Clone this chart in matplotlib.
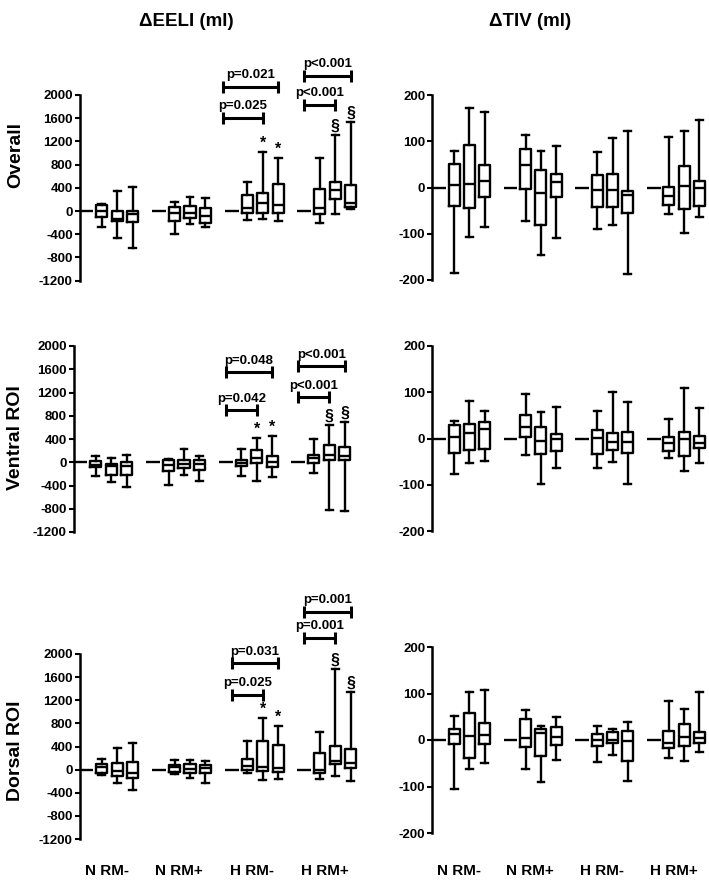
import matplotlib
matplotlib.use("Agg")
import matplotlib.pyplot as plt

plt.rcParams['font.family'] = ['Liberation Sans', 'DejaVu Sans']
plt.rcParams['font.weight'] = 'bold'
plt.rcParams['axes.unicode_minus'] = False

# groups on the x axis and row names
groups = ['N RM-', 'N RM+', 'H RM-', 'H RM+']
rows = ['Overall', 'Ventral ROI', 'Dorsal ROI']

# five-number summaries (whisker low, Q1, median, Q3, whisker high)
# 3 boxes per group, groups in the order of `groups`
eeli_overall = [
    (-270, -97, 0, 103, 120), (-460, -166, -143, 5, 345), (-632, -195, -57, 5, 419),
    (-402, -166, -29, 74, 150), (-230, -126, -29, 90, 247), (-270, -201, -86, 46, 218),
    (-155, -40, 46, 276, 494), (-143, -40, 143, 315, 1022), (-172, -40, 103, 465, 908),
    (-201, -52, 57, 379, 908), (-52, 207, 362, 505, 1310), (29, 64, 132, 448, 1540),
]
eeli_ventral = [
    (-229, -86, -40, 17, 103), (-343, -212, -69, -29, 80), (-430, -218, -69, 6, 126),
    (-395, -143, -40, 34, 50), (-212, -97, -29, 34, 235), (-326, -137, -29, 34, 103),
    (-240, -69, -11, 46, 235), (-315, -11, 80, 217, 412), (-252, -86, 0, 115, 447),
    (-189, -11, 74, 132, 400), (-824, 46, 126, 292, 647), (-841, 46, 103, 258, 687),
]
eeli_dorsal = [
    (-92, -52, 40, 92, 178), (-224, -109, -17, 121, 368), (-351, -150, -52, 132, 455),
    (-81, -40, 40, 81, 167), (-150, -63, 6, 98, 167), (-224, -63, 35, 81, 150),
    (-63, -6, 63, 190, 495), (-178, -17, 40, 495, 886), (-167, -46, 23, 420, 760),
    (-167, -63, -6, 293, 645), (-109, 98, 150, 414, 1744), (-190, 23, 109, 351, 1335),
]
tiv_overall = [
    (-184, -40, 5, 50, 79), (-107, -44, 8, 91, 172), (-86, -20, 14, 48, 164),
    (-73, -4, 48, 84, 113), (-145, -80, -12, 37, 79), (-110, -21, 12, 30, 89),
    (-89, -42, -5, 28, 77), (-80, -42, -6, 30, 106), (-188, -55, -17, -8, 122),
    (-58, -37, -19, 1, 110), (-99, -46, 4, 46, 122), (-63, -40, -1, 14, 146),
]
tiv_ventral = [
    (-76, -32, 4, 29, 38), (-52, -24, 12, 32, 81), (-48, -23, 20, 35, 60),
    (-35, 3, 25, 51, 97), (-99, -34, -5, 25, 58), (-63, -26, -1, 10, 69),
    (-64, -34, 1, 18, 60), (-51, -24, -7, 12, 101), (-99, -32, -7, 13, 79),
    (-43, -27, -9, 3, 42), (-71, -38, 0, 13, 109), (-52, -21, -9, 6, 65),
]
tiv_dorsal = [
    (-106, -9, 13, 24, 52), (-62, -39, 9, 58, 104), (-50, -9, 11, 37, 108),
    (-62, -14, 4, 45, 65), (-91, -35, 16, 23, 31), (-43, -11, 6, 29, 50),
    (-47, -13, 0, 12, 31), (-32, -6, 0, 18, 24), (-88, -45, -3, 19, 38),
    (-38, -17, -7, 19, 83), (-45, -12, 7, 35, 67), (-26, -7, 5, 17, 103),
]

# significance brackets: (group, start slot, end slot, height, label)
brackets_overall = [(2, -0.55, 2, 1610, 'p=0.025'), (2, -0.55, 3, 2140, 'p=0.021'),
                    (3, 0, 2, 1830, 'p<0.001'), (3, 0, 3, 2330, 'p<0.001')]
brackets_ventral = [(2, 0, 2, 893, 'p=0.042'), (2, 0, 3, 1550, 'p=0.048'),
                    (3, 0, 2, 1120, 'p<0.001'), (3, 0, 3, 1650, 'p<0.001')]
brackets_dorsal = [(2, 0, 2, 1290, 'p=0.025'), (2, 0, 3, 1836, 'p=0.031'),
                   (3, 0, 2, 2285, 'p=0.001'), (3, 0, 3, 2728, 'p=0.001')]
# symbols above boxes: (group, slot, symbol)
marks = [(2, 2, '*'), (2, 3, '*'), (3, 2, '§'), (3, 3, '§')]

GAP = 4.7
W, H = 709, 883


def pos(g, k):
    return g * GAP + k


def make_ax(left, top, bottom, width):
    return fig.add_axes([left / W, 1 - bottom / H, width / W, (bottom - top) / H])


def draw_panel(ax, data, ylim, step, brackets=None):
    stats = []
    positions = []
    for i, (lo, q1, med, q3, hi) in enumerate(data):
        stats.append(dict(whislo=lo, q1=q1, med=med, q3=q3, whishi=hi, fliers=[]))
        positions.append(pos(i // 3, i % 3 + 1))
    lw = 1.7
    ax.bxp(stats, positions=positions, widths=0.72, capwidths=0.45, showfliers=False,
           boxprops=dict(color='black', linewidth=lw),
           whiskerprops=dict(color='black', linewidth=lw),
           capprops=dict(color='black', linewidth=lw),
           medianprops=dict(color='black', linewidth=lw))
    # baseline (all zero) shown as a dash
    for g in range(len(groups)):
        ax.plot([pos(g, 0) - 0.45, pos(g, 0) + 0.45], [0, 0], color='black', lw=lw,
                solid_capstyle='butt')
    ax.set_ylim(*ylim)
    ax.set_xlim(-0.45, pos(3, 3) + 0.5)
    ax.set_yticks(range(ylim[0], ylim[1] + 1, step))
    ax.set_xticks([])
    for s in ['top', 'right', 'bottom']:
        ax.spines[s].set_visible(False)
    ax.spines['left'].set_linewidth(1.8)
    ax.tick_params(axis='y', direction='out', length=3.8, width=1.5, pad=1, labelsize=9.5)
    for lab in ax.get_yticklabels():
        lab.set_fontweight('bold')
    ax.patch.set_alpha(0)
    if brackets:
        for g, k0, k1, y, label in brackets:
            x0, x1 = pos(g, k0), pos(g, k1)
            ax.plot([x0, x1], [y, y], color='black', lw=2.2, marker='|', markersize=8,
                    mew=2.2, clip_on=False, solid_capstyle='butt')
            ax.annotate(label, ((x0 + x1) / 2, y), xytext=(0, 4), textcoords='offset points',
                        ha='center', va='bottom', fontsize=9.5, fontweight='bold',
                        annotation_clip=False)
        for g, k, sym in marks:
            hi = data[g * 3 + k - 1][4]
            ax.annotate(sym, (pos(g, k), hi), xytext=(0, 1), textcoords='offset points',
                        ha='center', va='bottom', fontsize=11.5, fontweight='bold',
                        annotation_clip=False)


fig = plt.figure(figsize=(W / 100, H / 100), dpi=100)

lw_px = 279
rw_px = 275
ax1 = make_ax(79.5, 95, 280.7, lw_px)
ax2 = make_ax(432, 95, 280, rw_px)
ax3 = make_ax(73.5, 346, 532, lw_px)
ax4 = make_ax(432, 346, 531, rw_px)
ax5 = make_ax(79.5, 654, 839, lw_px)
ax6 = make_ax(432, 647, 833, rw_px)

draw_panel(ax1, eeli_overall, (-1200, 2000), 400, brackets_overall)
draw_panel(ax3, eeli_ventral, (-1200, 2000), 400, brackets_ventral)
draw_panel(ax5, eeli_dorsal, (-1200, 2000), 400, brackets_dorsal)
draw_panel(ax2, tiv_overall, (-200, 200), 100)
draw_panel(ax4, tiv_ventral, (-200, 200), 100)
draw_panel(ax6, tiv_dorsal, (-200, 200), 100)

# column titles
fig.text(186 / W, 1 - 21 / H, '\u0394EELI (ml)', ha='center', va='center',
         fontsize=13.5, fontweight='bold')
fig.text(530 / W, 1 - 21 / H, '\u0394TIV (ml)', ha='center', va='center',
         fontsize=13.5, fontweight='bold')

# row labels
for name, yc in zip(rows, [155, 438, 751]):
    fig.text(16 / W, 1 - yc / H, name, rotation=90, ha='center', va='center',
             fontsize=14, fontweight='bold')

# group labels under the bottom panels
for ax in (ax5, ax6):
    for g, name in enumerate(groups):
        xc = (pos(g, 0) + pos(g, 3)) / 2 - 0.2
        ax.annotate(name, (xc, 1 - 871 / H), xycoords=('data', 'figure fraction'),
                    ha='center', va='center', fontsize=11, fontweight='bold')

fig.savefig('out.png', dpi=100)
